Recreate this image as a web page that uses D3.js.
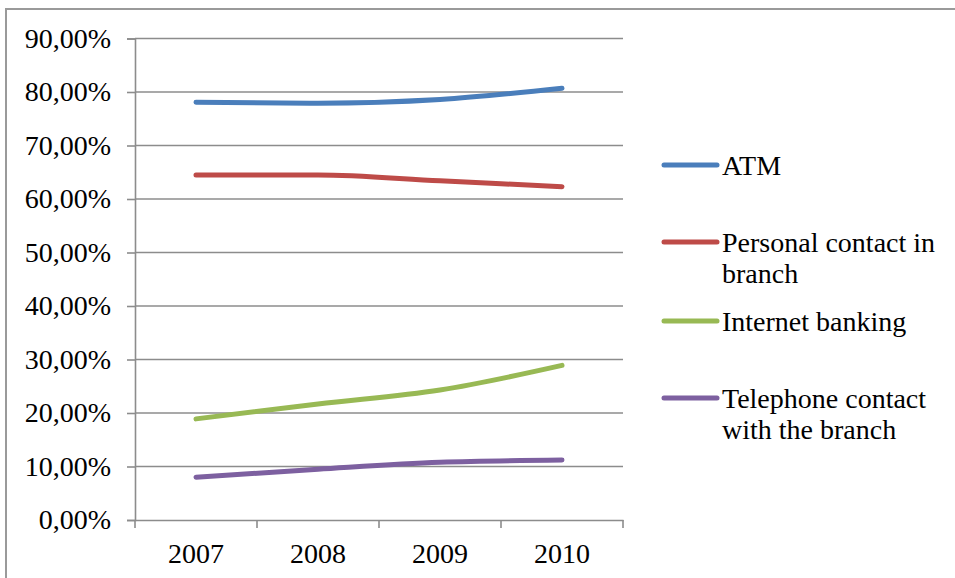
<!DOCTYPE html>
<html><head><meta charset="utf-8">
<script src="https://cdn.jsdelivr.net/npm/d3@7/dist/d3.min.js"></script>
<style>body{margin:0;background:#fff}svg{display:block}</style>
</head><body>
<svg id="c" width="955" height="578"></svg>
<script>
const years = ["2007","2008","2009","2010"];
const atm = [0.781, 0.779, 0.786, 0.807];
const personal = [0.645, 0.645, 0.634, 0.623];
const internet = [0.189, 0.217, 0.243, 0.289];
const telephone = [0.080, 0.095, 0.108, 0.112];
const seriesNames = [["ATM"],["Personal contact in","branch"],["Internet banking"],["Telephone contact","with the branch"]];
const colors = ["#4a7ebb","#be4b48","#98b954","#7d60a0"];
const yTicks = [0,0.1,0.2,0.3,0.4,0.5,0.6,0.7,0.8,0.9];

const series = [atm, personal, internet, telephone];
const svg = d3.select("#c");
const font = "'Liberation Serif', serif";
const FS = 28;
const L=135, R=623, T=38.5, B=520;

svg.append("rect").attr("x",6).attr("y",9).attr("width",1000).attr("height",1000)
  .attr("fill","none").attr("stroke","#9a9a9a").attr("stroke-width",2);

const x = d3.scaleBand().domain(years).range([L,R]);
const y = d3.scaleLinear().domain([0,0.9]).range([B,T]);

// gridlines
svg.append("g").selectAll("line").data(yTicks.slice(1)).join("line")
  .attr("x1",L).attr("x2",R).attr("y1",d=>y(d)).attr("y2",d=>y(d))
  .attr("stroke","#8c8c8c").attr("stroke-width",1.6);

const fmt = d => d3.format(".2f")(d*100).replace(".",",")+"%";
const yAxis = svg.append("g").attr("transform",`translate(${L},0)`)
  .call(d3.axisLeft(y).tickValues(yTicks).tickFormat(fmt).tickSize(8).tickPadding(16));
const xAxis = svg.append("g").attr("transform",`translate(0,${B})`)
  .call(d3.axisBottom(x).tickSize(0).tickPadding(23));
// x tick marks at band edges
svg.append("g").selectAll("line").data(years.map(d=>x(d)).concat([R])).join("line")
  .attr("x1",d=>d).attr("x2",d=>d).attr("y1",B).attr("y2",B+8)
  .attr("stroke","#8c8c8c").attr("stroke-width",1.6);
[yAxis,xAxis].forEach(a=>{
  a.selectAll("path.domain").attr("stroke","#8c8c8c").attr("stroke-width",1.6);
  a.selectAll(".tick line").attr("stroke","#8c8c8c").attr("stroke-width",1.6);
  a.selectAll("text").attr("font-family",font).attr("font-size",FS).attr("fill","#000");
});

const line = d3.line().x((d,i)=>x(years[i])+x.bandwidth()/2).y(d=>y(d)).curve(d3.curveMonotoneX);
svg.append("g").selectAll("path").data(series).join("path")
  .attr("d",line).attr("fill","none").attr("stroke",(d,i)=>colors[i])
  .attr("stroke-width",5).attr("stroke-linecap","round");

// legend
const legY = [165, 242, 321, 398];
const lg = svg.append("g");
seriesNames.forEach((names,i)=>{
  lg.append("line").attr("x1",664).attr("x2",717).attr("y1",legY[i]).attr("y2",legY[i])
    .attr("stroke",colors[i]).attr("stroke-width",5).attr("stroke-linecap","round");
  names.forEach((n,j)=>{
    lg.append("text").attr("x",722).attr("y",legY[i]+j*31).attr("dy","0.35em")
      .attr("font-family",font).attr("font-size",FS).attr("fill","#000").text(n);
  });
});
</script>
</body></html>
